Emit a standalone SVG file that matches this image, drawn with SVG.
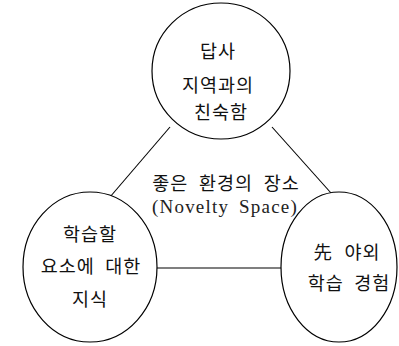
<svg xmlns="http://www.w3.org/2000/svg" width="399" height="346" viewBox="0 0 399 346">
<style>
.n{fill:#fff;stroke:#000;stroke-width:1.2}
.c{stroke:#000;stroke-width:1.1;fill:none}
text{font-family:"Liberation Serif","Noto Sans CJK KR",serif;font-size:18.5px;fill:#111;text-anchor:middle;letter-spacing:1px;word-spacing:5px}
.lat{font-size:19px;letter-spacing:1.2px;word-spacing:4px;fill:#222}
</style>
<rect width="399" height="346" fill="#fff"/>
<g id="connectors">
<line class="c" x1="170" y1="127" x2="110" y2="197"/>
<line class="c" x1="272" y1="127" x2="331" y2="193"/>
<line class="c" x1="157" y1="268" x2="281" y2="268"/>
</g>
<g id="node-top">
<ellipse class="n" cx="221" cy="71" rx="69" ry="68"/>
<text x="218" y="58">답사</text>
<text x="218" y="92">지역과의</text>
<text x="221" y="119">친숙함</text>
</g>
<g id="node-center">
<text x="226" y="190">좋은 환경의 장소</text>
<text class="lat" x="225" y="213">(Novelty Space)</text>
</g>
<g id="node-left">
<ellipse class="n" cx="90" cy="267" rx="67" ry="75"/>
<text x="90" y="241">학습할</text>
<text x="91" y="273">요소에 대한</text>
<text x="90" y="306">지식</text>
</g>
<g id="node-right">
<ellipse class="n" cx="339" cy="267" rx="58" ry="75"/>
<text x="347" y="259" style="word-spacing:6px">先 야외</text>
<text x="349" y="290" style="word-spacing:5px">학습 경험</text>
</g>
</svg>
